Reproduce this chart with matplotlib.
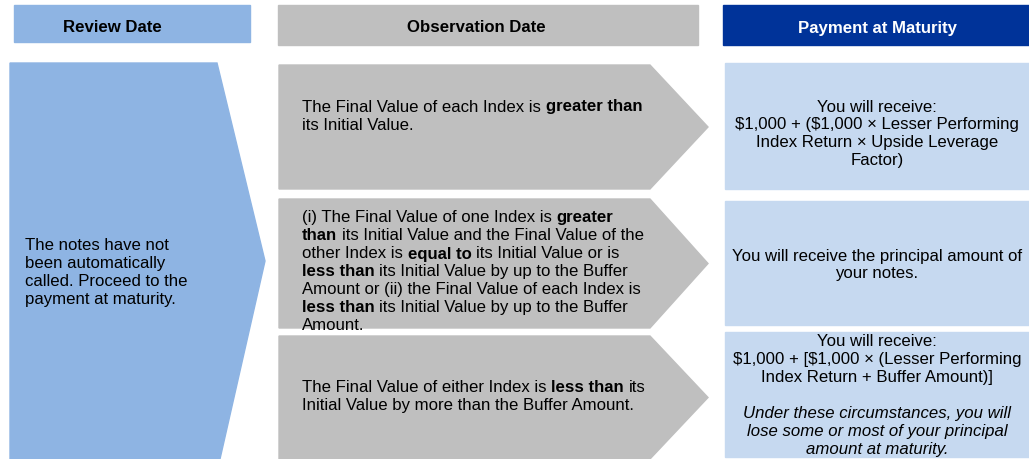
import matplotlib.pyplot as plt
from matplotlib.patches import Polygon, Rectangle

plt.rcParams['font.family'] = ['Liberation Sans', 'DejaVu Sans']
plt.rcParams['text.parse_math'] = False

FS = 12.1
LH = 18

# colours
blue = '#8EB4E3'
gray = '#BFBFBF'
navy = '#003399'
light = '#C6D9F0'

headers = ['Review Date', 'Observation Date', 'Payment at Maturity']

review_lines = ['The notes have not', 'been automatically',
                'called. Proceed to the', 'payment at maturity.']

# each line is a list of (text, bold) runs
obs_texts = [
    [[('The Final Value of each Index is ', False), ('greater than', True)],
     [('its Initial Value.', False)]],
    [[('(i) The Final Value of one Index is ', False), ('greater', True)],
     [('than', True), (' its Initial Value and the Final Value of the', False)],
     [('other Index is ', False), ('equal to', True), (' its Initial Value or is', False)],
     [('less than', True), (' its Initial Value by up to the Buffer', False)],
     [('Amount or (ii) the Final Value of each Index is', False)],
     [('less than', True), (' its Initial Value by up to the Buffer', False)],
     [('Amount.', False)]],
    [[('The Final Value of either Index is ', False), ('less than', True), (' its', False)],
     [('Initial Value by more than the Buffer Amount.', False)]],
]

pay_texts = [
    [('You will receive:', False), ('$1,000 + ($1,000 × Lesser Performing', False),
     ('Index Return × Upside Leverage', False), ('Factor)', False)],
    [('You will receive the principal amount of', False), ('your notes.', False)],
    [('You will receive:', False), ('$1,000 + [$1,000 × (Lesser Performing', False),
     ('Index Return + Buffer Amount)]', False), ('', False),
     ('Under these circumstances, you will', True), ('lose some or most of your principal', True),
     ('amount at maturity.', True)],
]

rows = [(66, 190), (200, 329), (337, 460)]
pay_rows = [(64, 190), (202, 326), (333, 458)]
obs_first = [107, 218, 388]
pay_first = [107, 256, 342]

fig = plt.figure(figsize=(10.29, 4.6), dpi=100)
ax = fig.add_axes([0, 0, 1, 1])
ax.set_xlim(0, 1029)
ax.set_ylim(460, 0)
ax.axis('off')
renderer = fig.canvas.get_renderer()

# header boxes
ax.add_patch(Rectangle((14, 6), 236, 37, color=blue))
ax.add_patch(Rectangle((278, 6), 420, 40, color=gray))
ax.add_patch(Rectangle((723, 6), 306, 40, color=navy))
ax.text(112, 28, headers[0], fontsize=FS, fontweight='bold', ha='center', va='center')
ax.text(476, 28, headers[1], fontsize=FS, fontweight='bold', ha='center', va='center')
ax.text(878, 28, headers[2], fontsize=FS, fontweight='bold', ha='center', va='center', color='white')

# review chevron
ax.add_patch(Polygon([(10, 64), (217, 64), (265, 262), (220, 460), (10, 460)],
                     closed=True, color=blue))
for i, line in enumerate(review_lines):
    ax.text(25, 246 + i * LH, line, fontsize=FS, va='center')


def width(s, bold):
    t = ax.text(0, 0, s, fontsize=FS, fontweight='bold' if bold else 'normal')
    w = t.get_window_extent(renderer).width
    t.remove()
    return w


def advance(s, bold):
    # width between two bars, so that spaces count
    return width('|' + s + '|', bold) - width('||', bold)


def draw_runs(x, y, runs):
    for s, bold in runs:
        lead = s[:len(s) - len(s.lstrip(' '))]
        core = s.strip(' ')
        x += advance(lead, bold) if lead else 0
        ax.text(x, y, core, fontsize=FS, va='center',
                fontweight='bold' if bold else 'normal')
        x += advance(s[len(lead):], bold)


# observation pentagons
for (y0, y1), lines, yf in zip(rows, obs_texts, obs_first):
    ym = (y0 + y1) / 2
    ax.add_patch(Polygon([(279, y0), (650, y0), (708, ym), (650, y1), (279, y1)],
                         closed=True, color=gray))
    for i, runs in enumerate(lines):
        draw_runs(302, yf + i * LH, runs)

# payment boxes
for (y0, y1), lines, yf in zip(pay_rows, pay_texts, pay_first):
    ax.add_patch(Rectangle((725, y0), 304, y1 - y0, color=light))
    for i, (s, ital) in enumerate(lines):
        ax.text(877, yf + i * LH, s, fontsize=FS, ha='center', va='center',
                fontstyle='italic' if ital else 'normal')

fig.savefig('out.png', dpi=100)
